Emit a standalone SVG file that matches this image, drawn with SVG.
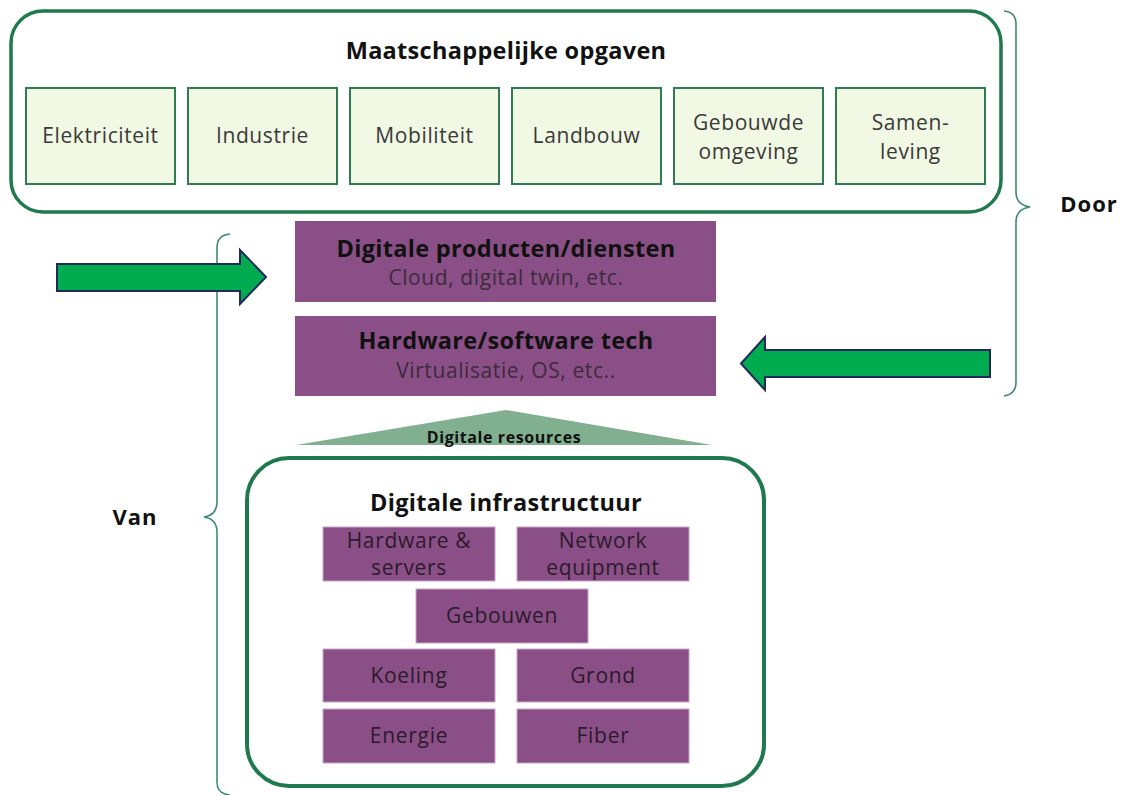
<svg xmlns="http://www.w3.org/2000/svg" width="1121" height="795" viewBox="0 0 1121 795">
<style>
text{font-family:"Open Sans","Liberation Sans",sans-serif;text-anchor:middle}
.frame{fill:#fff;stroke:#1e7a4c;stroke-width:3.5}
.cat{fill:#f1f8e3;stroke:#2e7d52;stroke-width:2}
.cat-t{font-size:21px;letter-spacing:0.6px;fill:#3a3a3a}
.pur{fill:#8a4f86}
.pur-s{fill:#8a4f86;stroke:#c9a3c6;stroke-width:1}
.h{font-weight:bold;font-size:23.5px;letter-spacing:0.3px;fill:#111}
.sub{font-size:21px;letter-spacing:0.6px;fill:#3d2b3d}
.inf{font-size:21px;letter-spacing:0.7px;fill:#2b1b2b}
.brace{fill:none;stroke:#3d8c6c;stroke-width:1.6}
.arrow{fill:#00ac4f;stroke:#1f2a5a;stroke-width:2;stroke-linejoin:miter}
.lbl{font-weight:bold;font-size:22px;letter-spacing:1px;fill:#111}
</style>

<g id="maatschappelijke-opgaven">
<rect class="frame" x="11" y="11" width="990" height="201" rx="32"/>
<text class="h" x="506" y="59">Maatschappelijke opgaven</text>
</g>
<g id="elektriciteit"><rect class="cat" x="26" y="88" width="149" height="96"/><text class="cat-t" x="100.5" y="143">Elektriciteit</text></g>
<g id="industrie"><rect class="cat" x="188" y="88" width="149" height="96"/><text class="cat-t" x="262.5" y="143">Industrie</text></g>
<g id="mobiliteit"><rect class="cat" x="350" y="88" width="149" height="96"/><text class="cat-t" x="424.5" y="143">Mobiliteit</text></g>
<g id="landbouw"><rect class="cat" x="512" y="88" width="149" height="96"/><text class="cat-t" x="586.5" y="143">Landbouw</text></g>
<g id="gebouwde-omgeving"><rect class="cat" x="674" y="88" width="149" height="96"/><text class="cat-t" x="748.5" y="130">Gebouwde</text><text class="cat-t" x="748.5" y="159">omgeving</text></g>
<g id="samenleving"><rect class="cat" x="836" y="88" width="149" height="96"/><text class="cat-t" x="910.5" y="130">Samen-</text><text class="cat-t" x="910.5" y="159">leving</text></g>

<g id="digitale-producten">
<rect class="pur" x="295" y="221" width="421" height="81"/>
<text class="h" x="506" y="257">Digitale producten/diensten</text>
<text class="sub" x="506" y="285">Cloud, digital twin, etc.</text>
</g>
<g id="hardware-software">
<rect class="pur" x="295" y="316" width="421" height="80"/>
<text class="h" x="506" y="349">Hardware/software tech</text>
<text class="sub" x="506" y="378">Virtualisatie, OS, etc..</text>
</g>

<g id="digitale-resources">
<polygon points="506,410 712,445 296,445" fill="#80b08f"/>
<text x="504" y="443" style="font-weight:bold;font-size:16px;letter-spacing:0.6px;fill:#111">Digitale resources</text>
</g>

<g id="digitale-infrastructuur">
<rect class="frame" x="247" y="458" width="517" height="328" rx="42" style="stroke-width:4"/>
<text class="h" x="506" y="511">Digitale infrastructuur</text>
</g>
<g id="hardware-servers"><rect class="pur-s" x="323" y="527" width="172" height="54"/><text class="inf" x="409" y="548">Hardware &amp;</text><text class="inf" x="409" y="575">servers</text></g>
<g id="network-equipment"><rect class="pur-s" x="517" y="527" width="172" height="54"/><text class="inf" x="603" y="548">Network</text><text class="inf" x="603" y="575">equipment</text></g>
<g id="gebouwen"><rect class="pur-s" x="416" y="589" width="172" height="54"/><text class="inf" x="502" y="623">Gebouwen</text></g>
<g id="koeling"><rect class="pur-s" x="323" y="649" width="172" height="53"/><text class="inf" x="409" y="683">Koeling</text></g>
<g id="grond"><rect class="pur-s" x="517" y="649" width="172" height="53"/><text class="inf" x="603" y="683">Grond</text></g>
<g id="energie"><rect class="pur-s" x="323" y="709" width="172" height="54"/><text class="inf" x="409" y="743">Energie</text></g>
<g id="fiber"><rect class="pur-s" x="517" y="709" width="172" height="54"/><text class="inf" x="603" y="743">Fiber</text></g>

<g id="door">
<path class="brace" d="M1004,11 Q1016,12 1016,24 L1016,192 Q1016,205 1030,207 Q1016,209 1016,222 L1016,382 Q1016,394 1004,396"/>
<text class="lbl" x="1089" y="212">Door</text>
</g>
<g id="van">
<path class="brace" d="M230,234 Q217,235 217,248 L217,502 Q217,515 204,517 Q217,519 217,532 L217,782 Q217,794 230,795"/>
<text class="lbl" x="135" y="525">Van</text>
</g>

<g id="connectors">
<polygon class="arrow" points="57,264 240,264 240,250 266,277 240,304 240,291 57,291"/>
<polygon class="arrow" points="990,350 765,350 765,337 741,363.5 765,390 765,377 990,377"/>
</g>
</svg>
